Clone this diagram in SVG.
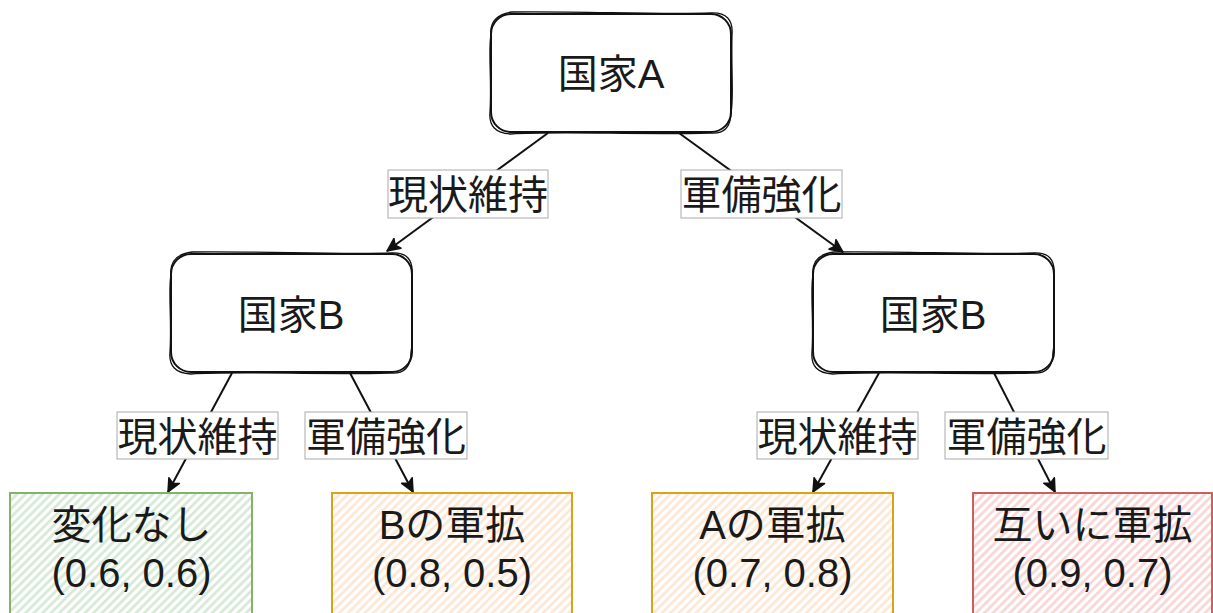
<svg xmlns="http://www.w3.org/2000/svg" width="1213" height="613" viewBox="0 0 1213 613">
<style>
.t{font-family:"Liberation Sans","Noto Sans CJK JP",sans-serif;font-size:40px;fill:#1a1a1a;text-anchor:middle}
.node{fill:#fff;stroke:#111;stroke-width:2}
.sk{fill:none;stroke:#111;stroke-width:1.3}
.edge{fill:none;stroke:#111;stroke-width:2;marker-end:url(#arr)}
.lbl{fill:#fff;stroke:#aaa;stroke-width:1}
</style>
<defs>
<marker id="arr" markerUnits="userSpaceOnUse" markerWidth="16" markerHeight="14" refX="14" refY="7" orient="auto">
<path d="M1,1 L14,7 L1,13 L4,7 Z" fill="#111" stroke="#111" stroke-width="1.5" stroke-linejoin="round"/>
</marker>
<pattern id="hg" width="6" height="6" patternUnits="userSpaceOnUse" patternTransform="rotate(45)">
<rect width="6" height="6" fill="#fff"/><line x1="1.5" y1="0" x2="1.5" y2="6" stroke="#d5e8d4" stroke-width="2.6"/>
</pattern>
<pattern id="ho" width="6" height="6" patternUnits="userSpaceOnUse" patternTransform="rotate(45)">
<rect width="6" height="6" fill="#fff"/><line x1="1.5" y1="0" x2="1.5" y2="6" stroke="#fde6d2" stroke-width="2.6"/>
</pattern>
<pattern id="hr" width="6" height="6" patternUnits="userSpaceOnUse" patternTransform="rotate(45)">
<rect width="6" height="6" fill="#fff"/><line x1="1.5" y1="0" x2="1.5" y2="6" stroke="#f8d4d2" stroke-width="2.6"/>
</pattern>
</defs>

<g id="connectors">
<path class="edge" d="M548,133 L387,251"/>
<path class="edge" d="M679,133 L843,252"/>
<path class="edge" d="M232,373 L168,492"/>
<path class="edge" d="M350,373 L413,492"/>
<path class="edge" d="M879,373 L813,492"/>
<path class="edge" d="M994,373 L1055,492"/>
<rect class="lbl" x="388" y="170" width="160" height="48"/>
<text class="t" x="468" y="209">現状維持</text>
<rect class="lbl" x="681" y="170" width="161" height="48"/>
<text class="t" x="761.5" y="209">軍備強化</text>
<rect class="lbl" x="117" y="412" width="161" height="47"/>
<text class="t" x="197.5" y="451">現状維持</text>
<rect class="lbl" x="305" y="412" width="162" height="47"/>
<text class="t" x="386" y="451">軍備強化</text>
<rect class="lbl" x="757" y="412" width="161" height="47"/>
<text class="t" x="837.5" y="451">現状維持</text>
<rect class="lbl" x="945" y="412" width="163" height="47"/>
<text class="t" x="1026.5" y="451">軍備強化</text>
</g>

<g id="nodeA">
<rect class="node" x="491" y="14" width="240" height="118" rx="20"/>
<path class="sk" d="M512,12 C580,11 660,15 711,13 Q734,12 732,35 C731,70 734,100 731,112 Q731,135 710,133 C640,135 560,131 511,134 Q488,133 490,112 C492,80 488,50 491,35 Q489,15 512,12 Z"/>
<text class="t" x="611" y="88">国家A</text>
</g>

<g id="nodeB1">
<rect class="node" x="171" y="254" width="241" height="118" rx="20"/>
<path class="sk" d="M192,252 C260,251 340,255 392,253 Q414,252 412,275 C411,310 414,340 411,352 Q411,375 390,373 C320,375 240,371 191,374 Q168,373 170,352 C172,320 168,290 171,275 Q169,255 192,252 Z"/>
<text class="t" x="291" y="329">国家B</text>
</g>

<g id="nodeB2">
<rect class="node" x="813" y="254" width="241" height="118" rx="20"/>
<path class="sk" d="M834,252 C902,251 982,255 1034,253 Q1056,252 1054,275 C1053,310 1056,340 1053,352 Q1053,375 1032,373 C962,375 882,371 833,374 Q810,373 812,352 C814,320 810,290 813,275 Q811,255 834,252 Z"/>
<text class="t" x="933" y="329">国家B</text>
</g>

<g id="leaf1">
<rect x="10" y="493" width="242" height="125" fill="url(#hg)" stroke="#82b366" stroke-width="2"/>
<text class="t" x="131.5" y="539">変化なし</text>
<text class="t" x="131.5" y="587">(0.6, 0.6)</text>
</g>

<g id="leaf2">
<rect x="332" y="493" width="240" height="125" fill="url(#ho)" stroke="#d9a21b" stroke-width="2"/>
<text class="t" x="452" y="539">Bの軍拡</text>
<text class="t" x="452" y="587">(0.8, 0.5)</text>
</g>

<g id="leaf3">
<rect x="652" y="493" width="241" height="125" fill="url(#ho)" stroke="#d9a21b" stroke-width="2"/>
<text class="t" x="772.5" y="539">Aの軍拡</text>
<text class="t" x="772.5" y="587">(0.7, 0.8)</text>
</g>

<g id="leaf4">
<rect x="973" y="493" width="239" height="125" fill="url(#hr)" stroke="#c9625e" stroke-width="2"/>
<text class="t" x="1092.5" y="539">互いに軍拡</text>
<text class="t" x="1092.5" y="587">(0.9, 0.7)</text>
</g>
</svg>
